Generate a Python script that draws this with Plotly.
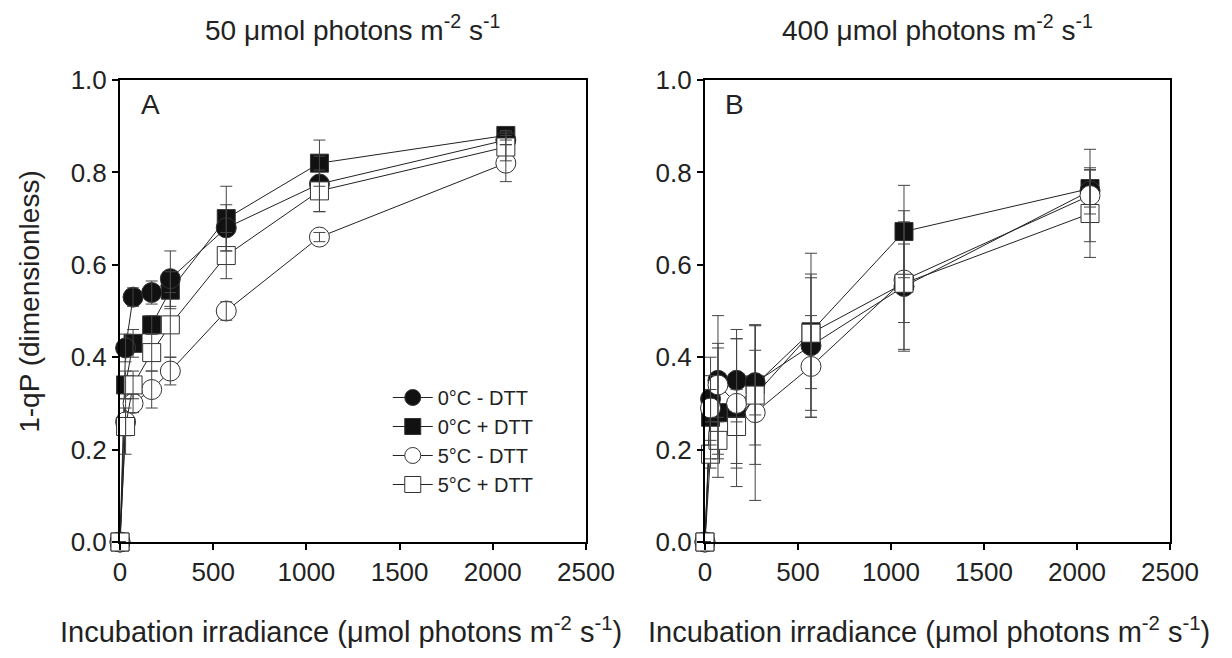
import plotly.graph_objects as go

# ---- data ----
irradiance = [0, 30, 70, 170, 270, 570, 1070, 2070]
series_names = ["0°C - DTT", "0°C + DTT", "5°C - DTT", "5°C + DTT"]

# Panel A (50 umol photons m-2 s-1)
a_c0_minus = [0, 0.42, 0.53, 0.54, 0.57, 0.68, 0.775, 0.87]
a_c0_plus = [0, 0.34, 0.43, 0.47, 0.545, 0.70, 0.82, 0.88]
a_c5_minus = [0, 0.26, 0.30, 0.33, 0.37, 0.50, 0.66, 0.82]
a_c5_plus = [0, 0.25, 0.34, 0.41, 0.47, 0.62, 0.76, 0.855]
a_e0_minus = [0, 0.03, 0.02, 0.025, 0.06, 0.05, 0.06, 0.01]
a_e0_plus = [0, 0.03, 0.03, 0.02, 0.04, 0.07, 0.05, 0.01]
a_e5_minus = [0, 0.03, 0.02, 0.04, 0.03, 0.02, 0.01, 0.04]
a_e5_plus = [0, 0.06, 0.03, 0.04, 0.07, 0.05, 0.045, 0.03]

# Panel B (400 umol photons m-2 s-1)
b_c0_minus = [0, 0.31, 0.35, 0.35, 0.345, 0.425, 0.553, 0.76]
b_c0_plus = [0, 0.27, 0.28, 0.29, 0.34, 0.455, 0.672, 0.765]
b_c5_minus = [0, 0.29, 0.34, 0.30, 0.28, 0.38, 0.567, 0.75]
b_c5_plus = [0, 0.19, 0.22, 0.25, 0.318, 0.452, 0.56, 0.711]
b_e0_minus = [0, 0.05, 0.08, 0.09, 0.07, 0.155, 0.14, 0.05]
b_e0_plus = [0, 0.06, 0.14, 0.17, 0.13, 0.17, 0.10, 0.04]
b_e5_minus = [0, 0.11, 0.15, 0.14, 0.19, 0.11, 0.15, 0.10]
b_e5_plus = [0, 0.03, 0.04, 0.08, 0.15, 0.12, 0.085, 0.095]

x_ticks = [0, 500, 1000, 1500, 2000, 2500]
y_ticks = [0.0, 0.2, 0.4, 0.6, 0.8, 1.0]

FONT = "Arial, Liberation Sans, sans-serif"

styles = {
    "0°C - DTT": dict(symbol="circle", color="#111111", size=20),
    "0°C + DTT": dict(symbol="square", color="#111111", size=18),
    "5°C - DTT": dict(symbol="circle", color="white", size=20),
    "5°C + DTT": dict(symbol="square", color="white", size=18),
}
rank = {n: i for i, n in enumerate(series_names)}
draw_order = ["0°C + DTT", "0°C - DTT", "5°C - DTT", "5°C + DTT"]

panels = [
    ("x", "y", {"0°C - DTT": (a_c0_minus, a_e0_minus), "0°C + DTT": (a_c0_plus, a_e0_plus),
                "5°C - DTT": (a_c5_minus, a_e5_minus), "5°C + DTT": (a_c5_plus, a_e5_plus)}, True),
    ("x2", "y2", {"0°C - DTT": (b_c0_minus, b_e0_minus), "0°C + DTT": (b_c0_plus, b_e0_plus),
                  "5°C - DTT": (b_c5_minus, b_e5_minus), "5°C + DTT": (b_c5_plus, b_e5_plus)}, False),
]

fig = go.Figure()
for xa, ya, data, show in panels:
    for name in draw_order:
        vals, errs = data[name]
        st = styles[name]
        fig.add_trace(go.Scatter(
            x=irradiance, y=vals, mode="lines+markers", name=name,
            xaxis=xa, yaxis=ya, showlegend=show, legendrank=rank[name],
            line=dict(color="#222222", width=1),
            marker=dict(symbol=st["symbol"], size=st["size"], color=st["color"],
                        line=dict(color="#333333", width=1)),
            cliponaxis=False,
        ))
    # error bars drawn on top of markers
    for name in draw_order:
        vals, errs = data[name]
        fig.add_trace(go.Scatter(
            x=irradiance, y=vals, mode="markers", xaxis=xa, yaxis=ya, showlegend=False,
            marker=dict(size=1, color="rgba(0,0,0,0)"),
            error_y=dict(type="data", array=errs, visible=True, color="#444444",
                         thickness=1, width=6),
            hoverinfo="skip", cliponaxis=False,
        ))

axis_common = dict(
    showline=True, mirror=True, linecolor="black", linewidth=2,
    ticks="outside", ticklen=6, tickwidth=2, tickcolor="black",
    showgrid=False, zeroline=False,
    tickfont=dict(family=FONT, size=26, color="#222"),
)

fig.update_layout(
    width=1232, height=658,
    margin=dict(l=112, r=70, t=72, b=124),
    paper_bgcolor="white", plot_bgcolor="white",
    xaxis=dict(domain=[0, 0.4438], range=[0, 2500], tickvals=x_ticks, anchor="y", **axis_common),
    yaxis=dict(domain=[0, 1], range=[0, 1], tickvals=y_ticks, tickformat=".1f", anchor="x", **axis_common),
    xaxis2=dict(domain=[0.5571, 1], range=[0, 2500], tickvals=x_ticks, anchor="y2", **axis_common),
    yaxis2=dict(domain=[0, 1], range=[0, 1], tickvals=y_ticks, tickformat=".1f", anchor="x2", **axis_common),
    legend=dict(x=0.255, y=0.355, xanchor="left", yanchor="top",
                bgcolor="rgba(0,0,0,0)", font=dict(family=FONT, size=20, color="#222"),
                tracegroupgap=0, itemwidth=40),
    showlegend=True,
)

title_font = dict(family=FONT, size=28, color="#222")
xt_font = dict(family=FONT, size=29, color="#222")
sup = "m<sup>-2</sup> s<sup>-1</sup>"
annotations = [
    dict(text="50 μmol photons " + sup, x=0.2219, y=1.1126, xref="paper", yref="paper",
         showarrow=False, xanchor="center", yanchor="middle", font=title_font),
    dict(text="400 μmol photons " + sup, x=0.7786, y=1.1126, xref="paper", yref="paper",
         showarrow=False, xanchor="center", yanchor="middle", font=title_font),
    dict(text="A", x=0.0286, y=0.946, xref="paper", yref="paper", showarrow=False,
         xanchor="center", yanchor="middle", font=dict(family=FONT, size=28, color="#222")),
    dict(text="B", x=0.5857, y=0.946, xref="paper", yref="paper", showarrow=False,
         xanchor="center", yanchor="middle", font=dict(family=FONT, size=28, color="#222")),
    dict(text="Incubation irradiance (μmol photons " + sup + ")", x=0.21, y=-0.19,
         xref="paper", yref="paper", showarrow=False, xanchor="center", yanchor="middle",
         font=xt_font),
    dict(text="Incubation irradiance (μmol photons " + sup + ")", x=0.77, y=-0.19,
         xref="paper", yref="paper", showarrow=False, xanchor="center", yanchor="middle",
         font=xt_font),
    dict(text="1-qP (dimensionless)", x=-0.0857, y=0.52, xref="paper", yref="paper",
         showarrow=False, textangle=-90, xanchor="center", yanchor="middle", font=title_font),
]
fig.update_layout(annotations=annotations)

fig.write_html("out.html")
